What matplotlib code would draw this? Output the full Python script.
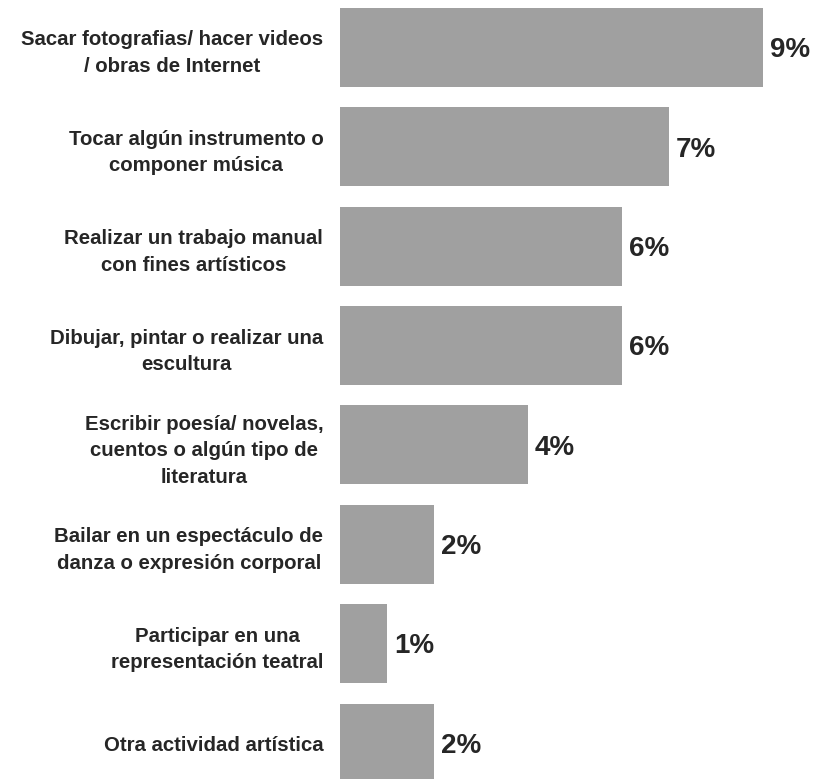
import matplotlib
matplotlib.use("Agg")
import matplotlib.pyplot as plt

# ---- data ------------------------------------------------------------------
ACTIVIDADES = [
    "Sacar fotografias/ hacer videos\n/ obras de Internet",
    "Tocar algún instrumento o\ncomponer música",
    "Realizar un trabajo manual\ncon fines artísticos",
    "Dibujar, pintar o realizar una\nescultura",
    "Escribir poesía/ novelas,\ncuentos o algún tipo de\nliteratura",
    "Bailar en un espectáculo de\ndanza o expresión corporal",
    "Participar en una\nrepresentación teatral",
    "Otra actividad artística",
]
PORCENTAJES = [9, 7, 6, 6, 4, 2, 1, 2]

BAR = "#a0a0a0"
TXT = "#262626"

fig = plt.figure(figsize=(8.13, 7.79), dpi=100)
ax = fig.add_axes([340 / 813, 0, 473 / 813, 1])

ypos = list(range(len(PORCENTAJES)))
ax.barh(ypos, PORCENTAJES, height=0.795, color=BAR)

# percentage next to each bar
for y, v in zip(ypos, PORCENTAJES):
    ax.annotate("%d%%" % v, xy=(v, y), xytext=(5, -2), textcoords="offset points",
                va="center", ha="left", fontsize=20, fontweight="bold",
                color=TXT, family="Liberation Sans")

ax.set_xlim(0, 473 / 47)
ax.set_ylim(7.362, -0.478)
ax.set_yticks(ypos)
ax.set_yticklabels(ACTIVIDADES, fontsize=14.7, fontweight="bold", color=TXT,
                   family="Liberation Sans")
for lab in ax.get_yticklabels():
    lab.set_multialignment("center")
    lab.set_linespacing(1.5)
ax.tick_params(axis="y", length=0, pad=12)
ax.set_xticks([])
for s in ax.spines.values():
    s.set_visible(False)

fig.savefig("out.png", dpi=100)
